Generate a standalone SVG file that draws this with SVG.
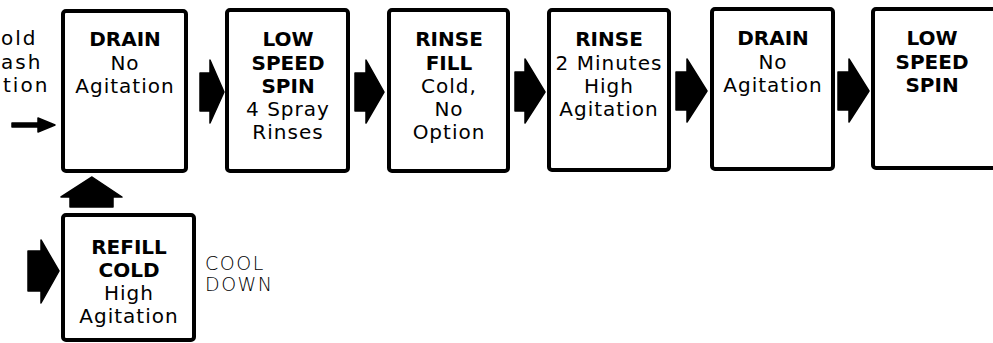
<svg xmlns="http://www.w3.org/2000/svg" width="993" height="343" viewBox="0 0 993 343">
<style>
.box { fill: #fff; stroke: #000; stroke-width: 4; }
.blk { fill: #000; stroke: #000; stroke-width: 1.5; stroke-linejoin: round; }
.b { font-family: "DejaVu Sans", "Liberation Sans", sans-serif; font-weight: bold; font-size: 20px; text-anchor: middle; fill: #000; }
.r { font-family: "DejaVu Sans", "Liberation Sans", sans-serif; font-weight: normal; font-size: 20px; letter-spacing: 1px; text-anchor: middle; fill: #000; }
.side { font-family: "DejaVu Sans", "Liberation Sans", sans-serif; font-size: 20px; letter-spacing: 2px; fill: #000; }
.thin { font-family: "DejaVu Sans", "Liberation Sans", sans-serif; font-weight: 200; font-size: 19px; letter-spacing: 1.5px; fill: #000; }
</style>
<rect width="993" height="343" fill="#fff"/>

<g id="prev-step">
  <text class="side" x="1" y="45">old</text>
  <text class="side" x="1" y="69">ash</text>
  <text class="side" x="3" y="92">tion</text>
</g>

<g id="connectors">
  <path class="blk" d="M12,123 L38,123 L38,118 L55,125 L38,132 L38,127 L12,127 Z"/>
  <path class="blk" d="M200,73 L210,73 L210,60 L224,92 L210,123 L210,111 L200,111 Z"/>
  <path class="blk" d="M355,73 L366,73 L366,60 L384,92 L366,123 L366,111 L355,111 Z"/>
  <path class="blk" d="M515,72 L525,72 L525,59 L545,92 L525,123 L525,111 L515,111 Z"/>
  <path class="blk" d="M676,72 L687,72 L687,59 L707,91 L687,122 L687,110 L676,110 Z"/>
  <path class="blk" d="M838,72 L849,72 L849,59 L869,91 L849,122 L849,110 L838,110 Z"/>
  <path class="blk" d="M70,207 L70,197 L61,197 L92,177 L122,197 L113,197 L113,207 Z"/>
  <path class="blk" d="M28,251 L41,251 L41,240 L59,271 L41,303 L41,291 L28,291 Z"/>
</g>

<g id="n1-drain">
  <rect class="box" x="63" y="11" width="123" height="160" rx="3"/>
  <text class="b" x="125" y="46">DRAIN</text>
  <text class="r" x="125" y="70">No</text>
  <text class="r" x="125" y="93">Agitation</text>
</g>

<g id="n2-low-speed-spin">
  <rect class="box" x="227" y="10" width="121" height="161" rx="3"/>
  <text class="b" x="288" y="46">LOW</text>
  <text class="b" x="288" y="70">SPEED</text>
  <text class="b" x="288" y="93">SPIN</text>
  <text class="r" x="288" y="116">4 Spray</text>
  <text class="r" x="288" y="139">Rinses</text>
</g>

<g id="n3-rinse-fill">
  <rect class="box" x="389" y="10" width="119" height="161" rx="3"/>
  <text class="b" x="449" y="46">RINSE</text>
  <text class="b" x="449" y="70">FILL</text>
  <text class="r" x="449" y="93">Cold,</text>
  <text class="r" x="449" y="116">No</text>
  <text class="r" x="449" y="139">Option</text>
</g>

<g id="n4-rinse">
  <rect class="box" x="549" y="10" width="120" height="160" rx="3"/>
  <text class="b" x="609" y="46">RINSE</text>
  <text class="r" x="609" y="70">2 Minutes</text>
  <text class="r" x="609" y="93">High</text>
  <text class="r" x="609" y="116">Agitation</text>
</g>

<g id="n5-drain">
  <rect class="box" x="712" y="9" width="121" height="160" rx="3"/>
  <text class="b" x="773" y="45">DRAIN</text>
  <text class="r" x="773" y="69">No</text>
  <text class="r" x="773" y="92">Agitation</text>
</g>

<g id="n6-low-speed-spin">
  <rect class="box" x="873" y="9" width="123" height="159" rx="3"/>
  <text class="b" x="932" y="45">LOW</text>
  <text class="b" x="932" y="69">SPEED</text>
  <text class="b" x="932" y="92">SPIN</text>
</g>

<g id="n7-refill-cold">
  <rect class="box" x="63" y="215" width="131" height="125" rx="3"/>
  <text class="b" x="129" y="254">REFILL</text>
  <text class="b" x="129" y="277">COLD</text>
  <text class="r" x="129" y="300">High</text>
  <text class="r" x="129" y="323">Agitation</text>
</g>

<g id="cool-down-label">
  <text class="thin" x="205" y="270">COOL</text>
  <text class="thin" x="205" y="291">DOWN</text>
</g>
</svg>
